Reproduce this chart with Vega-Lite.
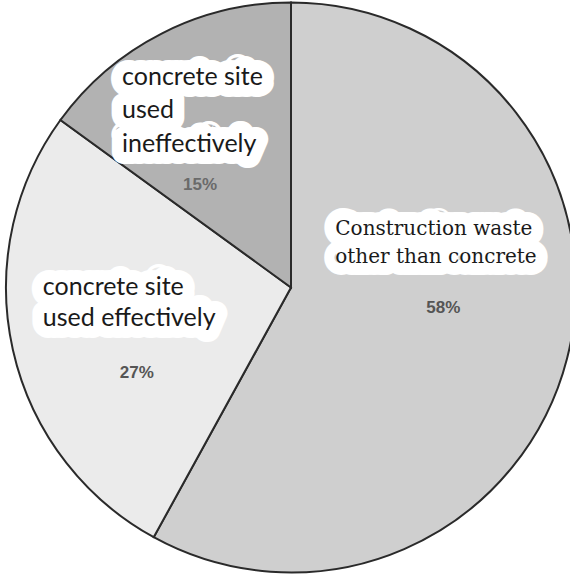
{
  "$schema": "https://vega.github.io/schema/vega-lite/v6.json",
  "width": 570,
  "height": 575,
  "autosize": {"type": "none"},
  "padding": {"left": 6, "top": 0, "right": 0, "bottom": 0},
  "background": "white",
  "config": {"view": {"stroke": null}},
  "data": {
    "values": [
      {"category": "Construction waste other than concrete", "label": "Construction waste\nother than concrete", "share": 0.58, "order": 1},
      {"category": "concrete site used effectively", "label": "concrete site\nused effectively", "share": 0.27, "order": 2},
      {"category": "concrete site used ineffectively", "label": "concrete site\nused\nineffectively", "share": 0.15, "order": 3}
    ]
  },
  "encoding": {
    "theta": {"field": "share", "type": "quantitative", "stack": true},
    "order": {"field": "order", "type": "quantitative"}
  },
  "layer": [
    {
      "mark": {"type": "arc", "outerRadius": 285, "stroke": "#2a2a2a", "strokeWidth": 2},
      "encoding": {
        "color": {
          "field": "category",
          "type": "nominal",
          "scale": {
            "domain": ["Construction waste other than concrete", "concrete site used effectively", "concrete site used ineffectively"],
            "range": ["#cfcfcf", "#ebebeb", "#b2b2b2"]
          },
          "legend": null
        }
      }
    },
    {
      "mark": {"type": "text", "radius": 150, "dx": -101, "dy": -90, "align": "left", "baseline": "alphabetic", "font": "DejaVu Serif", "fontSize": 20, "lineHeight": 28, "lineBreak": "\n", "fill": "white", "stroke": "white", "strokeWidth": 24, "strokeJoin": "round"},
      "encoding": {"text": {"condition": {"test": "datum.order === 1", "field": "label"}, "value": ""}}
    },
    {
      "mark": {"type": "text", "radius": 160, "dx": -92, "dy": -27, "align": "left", "baseline": "alphabetic", "font": "Lato", "fontSize": 25, "lineHeight": 31, "lineBreak": "\n", "fill": "white", "stroke": "white", "strokeWidth": 24, "strokeJoin": "round"},
      "encoding": {"text": {"condition": {"test": "datum.order === 2", "field": "label"}, "value": ""}}
    },
    {
      "mark": {"type": "text", "radius": 110, "dx": -119, "dy": -104.5, "align": "left", "baseline": "alphabetic", "font": "Lato", "fontSize": 25, "lineHeight": 33.5, "lineBreak": "\n", "fill": "white", "stroke": "white", "strokeWidth": 24, "strokeJoin": "round"},
      "encoding": {"text": {"condition": {"test": "datum.order === 3", "field": "label"}, "value": ""}}
    },
    {
      "mark": {"type": "text", "radius": 150, "dx": -101, "dy": -90, "align": "left", "baseline": "alphabetic", "font": "DejaVu Serif", "fontSize": 20, "lineHeight": 28, "lineBreak": "\n", "fill": "#1a1a1a"},
      "encoding": {"text": {"condition": {"test": "datum.order === 1", "field": "label"}, "value": ""}}
    },
    {
      "mark": {"type": "text", "radius": 160, "dx": -92, "dy": -27, "align": "left", "baseline": "alphabetic", "font": "Lato", "fontSize": 25, "lineHeight": 31, "lineBreak": "\n", "fill": "#1a1a1a"},
      "encoding": {"text": {"condition": {"test": "datum.order === 2", "field": "label"}, "value": ""}}
    },
    {
      "mark": {"type": "text", "radius": 110, "dx": -119, "dy": -104.5, "align": "left", "baseline": "alphabetic", "font": "Lato", "fontSize": 25, "lineHeight": 33.5, "lineBreak": "\n", "fill": "#1a1a1a"},
      "encoding": {"text": {"condition": {"test": "datum.order === 3", "field": "label"}, "value": ""}}
    },
    {
      "mark": {"type": "text", "radius": 150, "dx": 7, "dy": -12, "align": "center", "baseline": "alphabetic", "font": "Liberation Sans", "fontWeight": "bold", "fontSize": 17, "fill": "#555555"},
      "encoding": {"text": {"condition": {"test": "datum.order === 1", "field": "share", "type": "quantitative", "format": ".0%"}, "value": ""}}
    },
    {
      "mark": {"type": "text", "radius": 160, "dx": 2, "dy": 56, "align": "center", "baseline": "alphabetic", "font": "Liberation Sans", "fontWeight": "bold", "fontSize": 17, "fill": "#555555"},
      "encoding": {"text": {"condition": {"test": "datum.order === 2", "field": "share", "type": "quantitative", "format": ".0%"}, "value": ""}}
    },
    {
      "mark": {"type": "text", "radius": 110, "dx": -41, "dy": 0.5, "align": "center", "baseline": "alphabetic", "font": "Liberation Sans", "fontWeight": "bold", "fontSize": 17, "fill": "#6a6a6a"},
      "encoding": {"text": {"condition": {"test": "datum.order === 3", "field": "share", "type": "quantitative", "format": ".0%"}, "value": ""}}
    }
  ]
}
